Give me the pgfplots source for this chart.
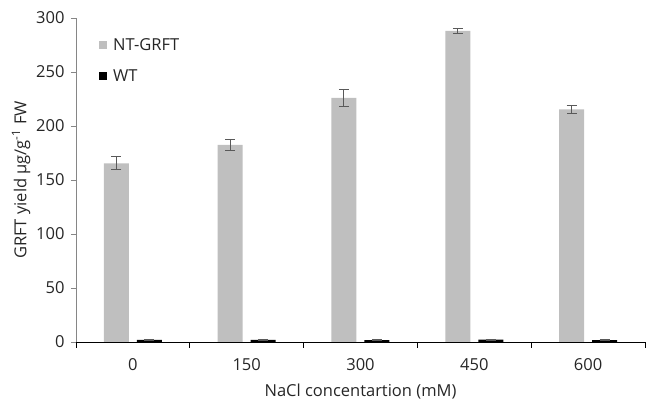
\documentclass[border=0pt]{standalone}
\usepackage{pgfplots}
\pgfplotsset{compat=1.18}
\usepackage{fontspec}
\setmainfont{Open Sans}
\definecolor{barg}{RGB}{191,191,191}
\definecolor{axg}{RGB}{134,134,134}
\definecolor{errg}{RGB}{89,89,89}
\begin{document}
\begin{tikzpicture}
\useasboundingbox (-76pt,-59pt) rectangle (570pt,342pt);
\begin{axis}[
  at={(0pt,0pt)}, anchor=south west,
  scale only axis, width=569pt, height=324pt,
  ybar=8pt, bar width=25pt,
  xmin=-0.5, xmax=4.5, ymin=0, ymax=300,
  xtick={0,...,4}, xticklabels={0,150,300,450,600},
  minor xtick={-0.5,0.5,...,4.5},
  major x tick style={draw=none},
  minor x tick style={black, thick},
  minor tick length=6pt,
  ytick={0,50,...,300},
  major tick length=5pt,
  tick align=outside,
  axis x line*=bottom, axis y line*=left,
  x axis line style={black, thick, -},
  y axis line style={axg, -},
  y tick style={axg},
  tick label style={font=\fontsize{16.5}{19}\selectfont, text=black!85},
  xticklabel style={yshift=-8pt},
  yticklabel style={xshift=-3pt},
  /pgf/number format/assume math mode=true,
  xlabel={NaCl concentartion (mM)},
  ylabel={GRFT yield µg/g\textsuperscript{-1} FW},
  label style={font=\fontsize{16.5}{19}\selectfont, text=black!85},
  xlabel style={yshift=-6pt},
  ylabel style={yshift=-1pt},
  legend style={draw=none, fill=none, at={(0.035,0.95)}, anchor=north west,
    font=\fontsize{16.5}{19}\selectfont, row sep=14pt, text=black!85,
    /tikz/every odd column/.append style={column sep=4pt}},
  legend cell align=left,
  legend image code/.code={\fill[#1] (0pt,-4pt) rectangle (8pt,4pt);},
  error bars/error bar style={errg, line width=1pt},
  error bars/error mark options={rotate=90, mark size=5pt, errg, line width=1pt},
]
\addplot[fill=barg, draw=none, error bars/.cd, y dir=both, y explicit]
  coordinates {(0,165.5) +- (0,6) (1,182.5) +- (0,5) (2,226) +- (0,8) (3,288) +- (0,2) (4,215.5) +- (0,3.5)};
\addplot[fill=black, draw=none, error bars/.cd, y dir=both, y explicit]
  coordinates {(0,2) +- (0,0.6) (1,2) +- (0,0.5) (2,1.8) +- (0,0.5) (3,2.2) +- (0,0.4) (4,1.8) +- (0,0.5)};
\legend{NT-GRFT, WT}
\end{axis}
\end{tikzpicture}
\end{document}
